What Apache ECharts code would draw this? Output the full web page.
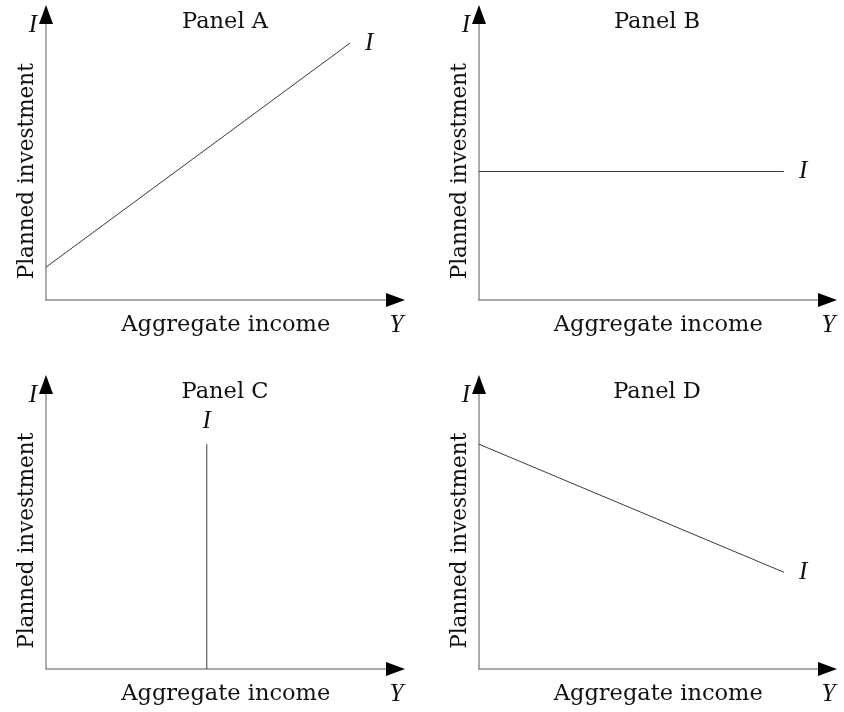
<!DOCTYPE html>
<html>
<head>
<meta charset="utf-8">
<title>Planned investment panels</title>
<script src="https://cdn.jsdelivr.net/npm/echarts@6/dist/echarts.min.js"></script>
<style>
  html, body { margin: 0; padding: 0; background: #fff; }
  #chart { width: 844px; height: 712px; }
</style>
</head>
<body>
<div id="chart"></div>
<script>
// panel data (axis units 0..10)
const panelTitles = ['Panel A', 'Panel B', 'Panel C', 'Panel D']
const lineA = [[0, 1.15], [8.7, 9.0]]
const lineB = [[0, 4.5], [8.75, 4.5]]
const lineC = [[4.6, 0], [4.6, 7.9]]
const lineD = [[0, 7.9], [8.75, 3.4]]
const panelLines = [lineA, lineB, lineC, lineD]
const curveLabel = 'I'
const xAxisLabel = 'Aggregate income'
const yAxisLabel = 'Planned investment'
const xAxisSymbol = 'Y'
const yAxisSymbol = 'I'

// layout of the four plots
const grids = [
  { left: 46, top: 14.5, width: 349.5, height: 285.5 },
  { left: 479, top: 14.5, width: 348.5, height: 285.5 },
  { left: 46, top: 384.5, width: 349.5, height: 284.5 },
  { left: 479, top: 384.5, width: 348.5, height: 284.5 }
]
const titlePos = [[225, 11], [657, 11], [225, 381], [657, 381]]
const labelPos = ['right', 'right', 'top', 'right']

const serif = 'DejaVu Serif'
const italic = { fontFamily: 'Liberation Serif', fontStyle: 'italic', fontSize: 25, color: '#111' }
const gray = '#8f8f8f'

const chart = echarts.init(document.getElementById('chart'))

const xAxis = []
const yAxis = []
grids.forEach((g, i) => {
  // main axes: gray line + centred names
  xAxis.push({
    type: 'value', gridIndex: i, min: 0, max: 10, position: 'bottom',
    axisLine: { lineStyle: { color: gray, width: 1.5 } },
    axisTick: { show: false }, axisLabel: { show: false }, splitLine: { show: false },
    name: xAxisLabel, nameLocation: 'middle', nameGap: 14,
    nameTextStyle: { fontFamily: serif, fontSize: 22.5, color: '#111', padding: [0, 0, 0, 10] }
  })
  // arrow axes: black arrowhead only, plus the letter
  xAxis.push({
    type: 'value', gridIndex: i, min: 0, max: 10, position: 'bottom',
    axisLine: { symbol: ['none', 'triangle'], symbolSize: [14, 19], lineStyle: { color: '#000', width: 0 } },
    axisTick: { show: false }, axisLabel: { show: false }, splitLine: { show: false },
    name: xAxisSymbol, nameLocation: 'end', nameGap: 1,
    nameTextStyle: Object.assign({ align: 'center', verticalAlign: 'top', padding: [13, 0, 0, 0] }, italic)
  })
  yAxis.push({
    type: 'value', gridIndex: i, min: 0, max: 10, position: 'left',
    axisLine: { lineStyle: { color: gray, width: 1.5 } },
    axisTick: { show: false }, axisLabel: { show: false }, splitLine: { show: false },
    name: yAxisLabel, nameLocation: 'middle', nameRotate: 90, nameGap: 8,
    nameTextStyle: { fontFamily: serif, fontSize: 21.5, color: '#111', padding: [0, 28, 0, 0] }
  })
  yAxis.push({
    type: 'value', gridIndex: i, min: 0, max: 10, position: 'left',
    axisLine: { symbol: ['none', 'triangle'], symbolSize: [14, 19], lineStyle: { color: '#000', width: 0 } },
    axisTick: { show: false }, axisLabel: { show: false }, splitLine: { show: false },
    name: yAxisSymbol, nameLocation: 'end', nameGap: -11,
    nameTextStyle: Object.assign({ align: 'right', verticalAlign: 'middle', padding: [0, 9, 0, 0] }, italic)
  })
})

const series = panelLines.map((pts, i) => ({
  type: 'line',
  xAxisIndex: i * 2,
  yAxisIndex: i * 2,
  data: pts,
  symbol: 'circle',
  symbolSize: 0,
  silent: true,
  lineStyle: { color: '#3a3a3a', width: 1 },
  label: {
    show: true,
    position: labelPos[i],
    distance: labelPos[i] === 'top' ? 10 : 15,
    formatter: p => (p.dataIndex === pts.length - 1 ? curveLabel : ''),
    ...italic
  },
  emphasis: { disabled: true }
}))

chart.setOption({
  animation: false,
  backgroundColor: '#fff',
  title: panelTitles.map((t, i) => ({
    text: t,
    left: titlePos[i][0],
    top: titlePos[i][1],
    padding: 0,
    textAlign: 'center',
    textStyle: { fontFamily: serif, fontSize: 22.5, fontWeight: 'normal', color: '#111' }
  })),
  grid: grids,
  xAxis: xAxis,
  yAxis: yAxis,
  series: series
})
</script>
</body>
</html>
